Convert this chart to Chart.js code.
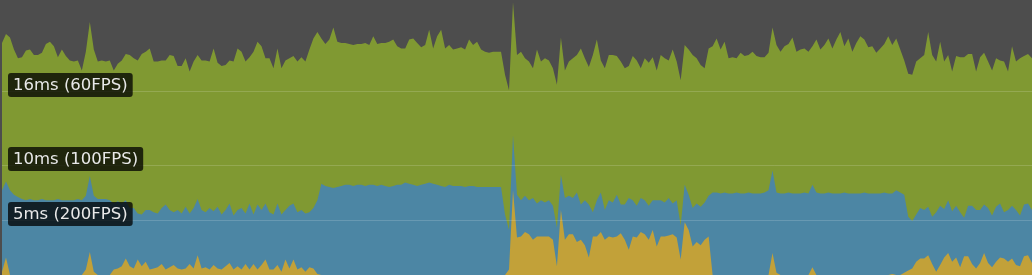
<!DOCTYPE html>
<html>
<head>
<meta charset="utf-8">
<title>Frame time</title>
<script src="https://cdn.jsdelivr.net/npm/chart.js@4.4.1/dist/chart.umd.min.js"></script>
<style>
    html, body { margin: 0; padding: 0; background: #4d4d4d; overflow: hidden; }
    #frameChart { display: block; }
</style>
</head>
<body>
<canvas id="frameChart" width="1032" height="275"></canvas>
<script>
// frame time chart, stacked levels (ms)
// greenTop = total frame, blueTop = blue + yellow, yellowTop = yellow only
const greenTop = [
    21.1, 21.9, 21.6, 20.5, 19.7, 19.8, 20.4, 20.5, 20.0, 20.0, 20.2, 21.0, 21.2, 20.8, 19.8, 20.5, 19.9, 19.5, 19.4, 19.5, 18.6, 20.3, 23.0, 20.5, 19.4, 19.5, 19.4, 19.5, 18.6, 19.2, 19.5, 20.1, 20.0,
    19.7, 19.5, 20.1, 20.3, 20.6, 19.4, 19.4, 19.5, 19.5, 20.0, 19.9, 19.0, 19.0, 19.7, 18.5, 19.4, 20.0, 19.5, 19.5, 19.4, 20.6, 19.3, 19.0, 19.1, 19.5, 19.4, 20.6, 20.3, 19.4, 19.8, 20.3, 21.2,
    20.8, 19.7, 19.7, 18.8, 20.6, 18.8, 19.5, 19.7, 19.9, 19.4, 19.8, 19.4, 20.5, 21.5, 22.1, 21.5, 21.0, 21.4, 22.5, 21.2, 21.1, 21.1, 21.0, 20.9, 21.0, 21.0, 21.1, 20.9, 21.7, 21.0, 21.1, 21.1,
    21.2, 21.4, 20.8, 20.6, 20.6, 21.4, 21.5, 21.1, 20.7, 20.9, 22.3, 20.6, 21.7, 22.3, 20.6, 20.9, 20.5, 20.6, 20.7, 20.5, 21.4, 20.9, 21.2, 20.5, 20.3, 20.2, 20.3, 20.3, 20.3, 18.2, 16.8, 24.8, 20.0,
    20.3, 19.7, 19.4, 18.8, 20.5, 19.4, 19.7, 19.5, 18.8, 17.3, 21.6, 18.6, 19.4, 19.7, 20.0, 20.6, 19.7, 18.9, 20.0, 21.4, 19.5, 18.8, 20.0, 20.0, 19.9, 19.4, 18.8, 19.0, 19.9, 19.5, 18.8, 19.7,
    19.3, 19.8, 18.6, 20.0, 19.7, 19.5, 20.5, 19.4, 17.7, 20.9, 20.5, 20.0, 19.7, 19.1, 18.8, 20.6, 20.8, 21.5, 20.5, 21.2, 19.7, 19.8, 19.7, 20.2, 19.9, 20.0, 20.3, 19.9, 19.8, 19.8, 20.2, 22.5,
    20.9, 20.3, 20.8, 21.0, 21.6, 20.3, 20.5, 20.6, 20.3, 20.8, 21.4, 20.5, 20.9, 21.5, 20.6, 21.4, 22.1, 20.8, 21.5, 20.3, 21.1, 21.7, 21.4, 20.7, 20.8, 20.2, 20.6, 21.0, 21.7, 20.9, 21.5, 20.5,
    19.5, 18.3, 18.2, 19.4, 19.7, 20.0, 22.1, 20.0, 19.4, 21.2, 19.4, 20.0, 18.5, 19.9, 19.8, 19.8, 20.1, 20.1, 18.5, 19.8, 20.2, 19.4, 18.6, 19.7, 19.5, 19.4, 18.5, 20.8, 19.4, 19.7, 19.9, 20.1, 19.7
];
const blueTop = [
    7.7, 8.5, 7.7, 7.3, 7.1, 6.9, 6.8, 6.9, 6.8, 6.8, 6.9, 6.8, 6.8, 6.8, 6.9, 6.8, 6.8, 6.8, 6.8, 6.9, 6.8, 7.2, 9.0, 7.2, 6.9, 6.9, 6.9, 6.8, 6.5, 6.7, 6.5, 6.8, 6.1,
    6.1, 5.6, 5.5, 5.9, 5.9, 5.7, 5.6, 6.1, 6.4, 5.9, 5.7, 5.9, 5.6, 6.2, 5.6, 6.1, 6.9, 5.9, 5.7, 6.1, 5.8, 6.2, 5.5, 5.9, 6.5, 5.4, 5.9, 6.1, 5.6, 6.5, 5.5, 6.4,
    5.9, 6.5, 5.7, 5.5, 6.5, 5.5, 5.9, 6.3, 6.5, 5.7, 5.9, 5.6, 5.7, 6.1, 6.8, 8.3, 8.1, 8.0, 7.9, 8.0, 8.1, 8.2, 8.2, 8.1, 8.2, 8.2, 8.1, 8.2, 8.2, 8.1, 8.2, 8.1,
    8.0, 8.1, 8.2, 8.2, 8.4, 8.3, 8.2, 8.1, 8.2, 8.3, 8.4, 8.3, 8.2, 8.1, 8.0, 8.2, 8.1, 8.1, 8.1, 8.0, 8.1, 8.1, 8.0, 8.0, 8.0, 8.0, 8.0, 8.0, 8.0, 5.5, 4.1, 12.7, 7.3,
    6.8, 7.2, 6.8, 7.0, 6.5, 6.8, 6.6, 6.8, 6.3, 4.3, 9.1, 7.0, 7.2, 7.0, 7.5, 6.4, 6.8, 6.4, 5.7, 6.8, 7.5, 5.9, 6.8, 6.6, 7.3, 6.4, 6.4, 7.0, 6.8, 6.3, 7.0, 6.8,
    6.3, 6.8, 6.8, 6.8, 6.6, 7.0, 6.5, 6.8, 4.5, 8.2, 7.3, 6.1, 6.5, 6.2, 6.6, 7.2, 7.5, 7.5, 7.4, 7.5, 7.4, 7.4, 7.5, 7.4, 7.4, 7.5, 7.4, 7.4, 7.4, 7.5, 7.7, 9.5,
    7.5, 7.4, 7.4, 7.5, 7.4, 7.4, 7.4, 7.5, 7.4, 8.2, 7.5, 7.4, 7.4, 7.5, 7.4, 7.4, 7.4, 7.5, 7.4, 7.4, 7.4, 7.4, 7.5, 7.4, 7.4, 7.4, 7.4, 7.5, 7.4, 7.4, 7.7, 7.5,
    7.3, 5.3, 4.9, 5.5, 6.1, 5.9, 6.2, 5.3, 5.7, 6.3, 6.0, 6.8, 5.8, 6.3, 5.7, 5.2, 6.3, 6.3, 5.9, 5.9, 6.4, 6.1, 5.4, 6.2, 6.5, 5.7, 5.9, 6.3, 5.9, 5.4, 6.4, 6.5, 5.9
];
const yellowTop = [
    0.3, 1.6, 0, 0, 0, 0, 0, 0, 0, 0, 0, 0, 0, 0, 0, 0, 0, 0, 0, 0, 0, 0.5, 2.1, 0.3, 0, 0, 0, 0, 0.5, 0.6, 0.8, 1.5, 0.8,
    0.6, 1.4, 0.8, 1.2, 0.5, 0.6, 0.7, 1.0, 0.5, 0.7, 0.9, 0.6, 0.5, 0.6, 1.0, 0.6, 1.8, 0.6, 0.7, 0.5, 0.9, 0.6, 0.5, 0.8, 1.1, 0.5, 0.8, 0.5, 1.0, 0.5, 1.0, 0.5,
    0.9, 1.4, 0.5, 0.5, 0.9, 0.3, 1.4, 0.6, 1.4, 0.5, 0.7, 0.3, 0.7, 0.6, 0.1, 0, 0, 0, 0, 0, 0, 0, 0, 0, 0, 0, 0, 0, 0, 0, 0, 0,
    0, 0, 0, 0, 0, 0, 0, 0, 0, 0, 0, 0, 0, 0, 0, 0, 0, 0, 0, 0, 0, 0, 0, 0, 0, 0, 0, 0, 0, 0, 0.5, 7.7, 3.4,
    3.5, 3.9, 3.7, 3.2, 3.5, 3.5, 3.5, 3.5, 3.2, 0.8, 5.9, 3.2, 3.7, 3.7, 3.0, 3.2, 2.7, 1.6, 3.5, 3.5, 3.9, 3.2, 3.5, 3.4, 3.5, 3.8, 3.2, 2.3, 3.5, 3.4, 3.9, 3.7,
    3.2, 4.1, 2.6, 3.5, 3.5, 3.6, 3.7, 3.4, 1.4, 4.8, 4.1, 2.6, 3.0, 2.7, 3.2, 3.5, 0, 0, 0, 0, 0, 0, 0, 0, 0, 0, 0, 0, 0, 0, 0, 2.0,
    0.2, 0, 0, 0, 0, 0, 0, 0, 0, 0.7, 0, 0, 0, 0, 0, 0, 0, 0, 0, 0, 0, 0, 0, 0, 0, 0, 0, 0, 0, 0.1, 0, 0,
    0.2, 0.4, 0.6, 1.2, 1.5, 1.5, 1.8, 1.0, 0.3, 0.9, 1.6, 2.0, 1.2, 1.6, 0.7, 1.7, 1.7, 1.0, 0.6, 1.1, 2.0, 1.1, 0.7, 1.2, 1.6, 1.5, 1.2, 1.5, 0.9, 0.8, 1.7, 1.8, 1.1
];
// frame numbers along x
const frames = greenTop.map((v, i) => i);

// target lines and their tags
const targetMs = [16.67, 10, 5];
const targetLabels = ['16ms (60FPS)', '10ms (100FPS)', '5ms (200FPS)'];

const targetLines = {
    id: 'targetLines',
    afterDatasetsDraw(chart) {
        const ctx = chart.ctx;
        const y = chart.scales.y;
        const area = chart.chartArea;
        ctx.save();
        targetMs.forEach((ms, i) => {
            const py = Math.floor(y.getPixelForValue(ms)) + 0.5;
            ctx.strokeStyle = 'rgba(255, 255, 255, 0.16)';
            ctx.lineWidth = 1;
            ctx.beginPath();
            ctx.moveTo(area.left, py);
            ctx.lineTo(area.right, py);
            ctx.stroke();

            ctx.font = '16.5px "DejaVu Sans", Verdana, sans-serif';
            const w = ctx.measureText(targetLabels[i]).width + 10;
            ctx.fillStyle = 'rgba(0, 0, 0, 0.76)';
            ctx.beginPath();
            ctx.roundRect(8, py - 18.5, w, 24, 3);
            ctx.fill();
            ctx.fillStyle = '#e8e8e8';
            ctx.textBaseline = 'middle';
            ctx.fillText(targetLabels[i], 13, py - 6);
        });
        ctx.restore();
    }
};

document.addEventListener('DOMContentLoaded', function () {
    const canvas = document.getElementById('frameChart');
    if (typeof Chart === 'undefined') {
        console.error('Chart.js not loaded!');
        return;
    }

    // dataset 0 is painted last, so yellow goes first
    new Chart(canvas.getContext('2d'), {
        type: 'line',
        data: {
            labels: frames,
            datasets: [
                { label: 'yellow', data: yellowTop, backgroundColor: '#c2a139', fill: 'origin' },
                { label: 'blue', data: blueTop, backgroundColor: '#4c86a4', fill: 'origin' },
                { label: 'green', data: greenTop, backgroundColor: '#809932', fill: 'origin' }
            ]
        },
        options: {
            responsive: false,
            animation: false,
            devicePixelRatio: 1,
            layout: { padding: { left: 2, right: 0, top: 0, bottom: 0 } },
            elements: {
                line: { borderWidth: 0, tension: 0 },
                point: { radius: 0, hoverRadius: 0 }
            },
            scales: {
                x: { display: false, offset: false },
                y: { display: false, min: 0, max: 25 }
            },
            plugins: {
                legend: { display: false },
                tooltip: { enabled: false }
            }
        },
        plugins: [targetLines]
    });
});
</script>
</body>
</html>
